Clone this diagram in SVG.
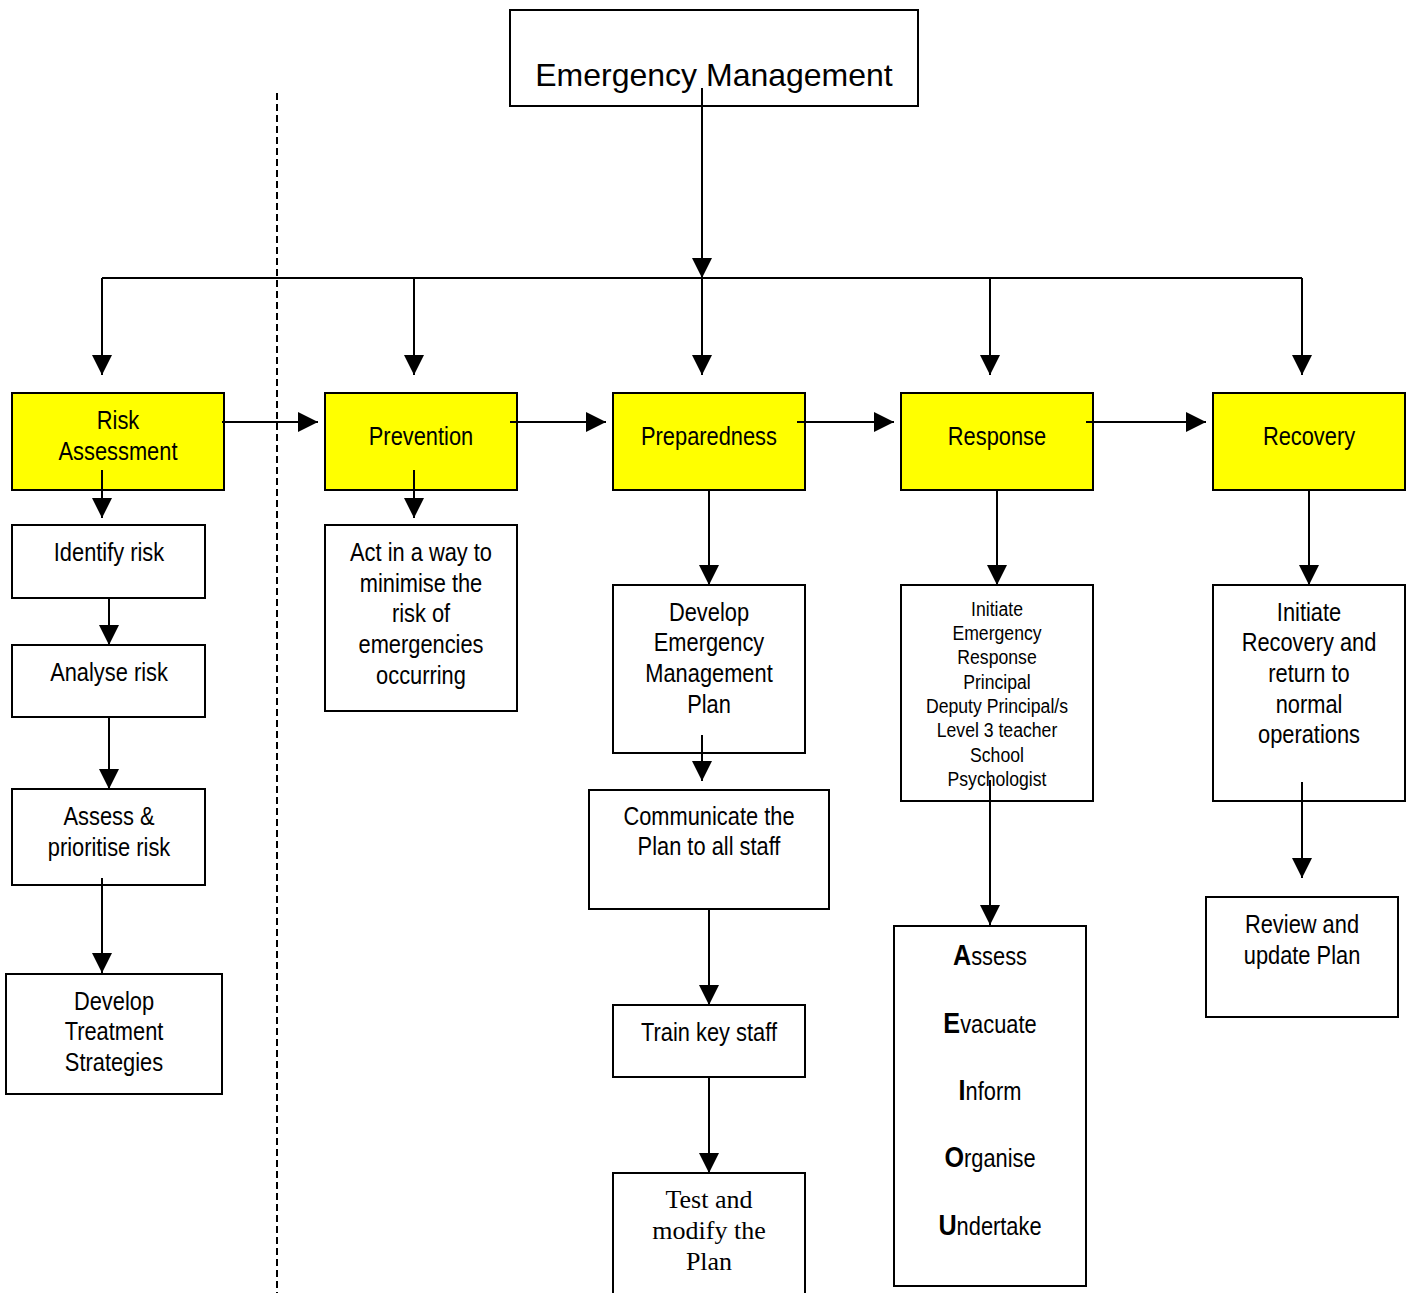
<svg xmlns="http://www.w3.org/2000/svg" width="1415" height="1293" viewBox="0 0 1415 1293">
<style>
  .box { fill: #ffffff; stroke: #000000; stroke-width: 2; }
  .yel { fill: #ffff00; stroke: #000000; stroke-width: 2; }
  .t { font-family: "Liberation Sans", Arial, sans-serif; font-size: 26px; text-anchor: middle; fill: #000000; }
  .s { font-size: 21px; }
  .big { font-family: "Liberation Sans", Arial, sans-serif; font-size: 32px; text-anchor: middle; fill: #000000; }
  .serif { font-family: "Liberation Serif", "Times New Roman", serif; font-size: 26px; text-anchor: middle; fill: #000000; }
  .b { font-weight: bold; font-size: 30px; }
  .c { fill: none; stroke: #000000; stroke-width: 2; }
  .dash { fill: none; stroke: #000000; stroke-width: 2; stroke-dasharray: 7 4; }
</style>
<defs>
  <marker id="ah" markerUnits="userSpaceOnUse" markerWidth="20" markerHeight="20" refX="20" refY="10" orient="auto" viewBox="0 0 20 20">
    <path d="M0,0 L20,10 L0,20 Z" fill="#000000"/>
  </marker>
</defs>
<rect width="1415" height="1293" fill="#ffffff"/>

<line class="dash" x1="277" y1="93" x2="277" y2="1293"/>

<g id="emergency-management">
  <rect class="box" x="510" y="10" width="408" height="96"/>
  <text class="big" x="714" y="86">Emergency Management</text>
</g>

<g id="risk-assessment">
  <rect class="yel" x="12" y="393" width="212" height="97"/>
  <text class="t" transform="translate(118 429) scale(0.84 1)">Risk</text>
  <text class="t" transform="translate(118 460) scale(0.84 1)">Assessment</text>
</g>
<g id="prevention">
  <rect class="yel" x="325" y="393" width="192" height="97"/>
  <text class="t" transform="translate(421 445) scale(0.84 1)">Prevention</text>
</g>
<g id="preparedness">
  <rect class="yel" x="613" y="393" width="192" height="97"/>
  <text class="t" transform="translate(709 445) scale(0.84 1)">Preparedness</text>
</g>
<g id="response">
  <rect class="yel" x="901" y="393" width="192" height="97"/>
  <text class="t" transform="translate(997 445) scale(0.84 1)">Response</text>
</g>
<g id="recovery">
  <rect class="yel" x="1213" y="393" width="192" height="97"/>
  <text class="t" transform="translate(1309 445) scale(0.84 1)">Recovery</text>
</g>

<g id="identify-risk">
  <rect class="box" x="12" y="525" width="193" height="73"/>
  <text class="t" transform="translate(109 561) scale(0.84 1)">Identify risk</text>
</g>
<g id="analyse-risk">
  <rect class="box" x="12" y="645" width="193" height="72"/>
  <text class="t" transform="translate(109 681) scale(0.84 1)">Analyse risk</text>
</g>
<g id="assess-prioritise">
  <rect class="box" x="12" y="789" width="193" height="96"/>
  <text class="t" transform="translate(109 825) scale(0.84 1)">Assess &amp;</text>
  <text class="t" transform="translate(109 856) scale(0.84 1)">prioritise risk</text>
</g>
<g id="treatment-strategies">
  <rect class="box" x="6" y="974" width="216" height="120"/>
  <text class="t" transform="translate(114 1010) scale(0.84 1)">Develop</text>
  <text class="t" transform="translate(114 1040) scale(0.84 1)">Treatment</text>
  <text class="t" transform="translate(114 1071) scale(0.84 1)">Strategies</text>
</g>

<g id="act-minimise">
  <rect class="box" x="325" y="525" width="192" height="186"/>
  <text class="t" transform="translate(421 561) scale(0.84 1)">Act in a way to</text>
  <text class="t" transform="translate(421 592) scale(0.84 1)">minimise the</text>
  <text class="t" transform="translate(421 622) scale(0.84 1)">risk of</text>
  <text class="t" transform="translate(421 653) scale(0.84 1)">emergencies</text>
  <text class="t" transform="translate(421 684) scale(0.84 1)">occurring</text>
</g>

<g id="develop-plan">
  <rect class="box" x="613" y="585" width="192" height="168"/>
  <text class="t" transform="translate(709 621) scale(0.84 1)">Develop</text>
  <text class="t" transform="translate(709 651) scale(0.84 1)">Emergency</text>
  <text class="t" transform="translate(709 682) scale(0.84 1)">Management</text>
  <text class="t" transform="translate(709 713) scale(0.84 1)">Plan</text>
</g>
<g id="communicate-plan">
  <rect class="box" x="589" y="790" width="240" height="119"/>
  <text class="t" transform="translate(709 825) scale(0.84 1)">Communicate the</text>
  <text class="t" transform="translate(709 855) scale(0.84 1)">Plan to all staff</text>
</g>
<g id="train-staff">
  <rect class="box" x="613" y="1005" width="192" height="72"/>
  <text class="t" transform="translate(709 1041) scale(0.84 1)">Train key staff</text>
</g>
<g id="test-modify">
  <rect class="box" x="613" y="1173" width="192" height="130"/>
  <text class="serif" x="709" y="1208">Test and</text>
  <text class="serif" x="709" y="1239">modify the</text>
  <text class="serif" x="709" y="1270">Plan</text>
</g>

<g id="initiate-response">
  <rect class="box" x="901" y="585" width="192" height="216"/>
  <text class="t s" transform="translate(997 616) scale(0.84 1)">Initiate</text>
  <text class="t s" transform="translate(997 640) scale(0.84 1)">Emergency</text>
  <text class="t s" transform="translate(997 664) scale(0.84 1)">Response</text>
  <text class="t s" transform="translate(997 689) scale(0.84 1)">Principal</text>
  <text class="t s" transform="translate(997 713) scale(0.84 1)">Deputy Principal/s</text>
  <text class="t s" transform="translate(997 737) scale(0.84 1)">Level 3 teacher</text>
  <text class="t s" transform="translate(997 762) scale(0.84 1)">School</text>
  <text class="t s" transform="translate(997 786) scale(0.84 1)">Psychologist</text>
</g>
<g id="aeiou">
  <rect class="box" x="894" y="926" width="192" height="360"/>
  <text class="t" transform="translate(990 965) scale(0.84 1)"><tspan class="b">A</tspan>ssess</text>
  <text class="t" transform="translate(990 1033) scale(0.84 1)"><tspan class="b">E</tspan>vacuate</text>
  <text class="t" transform="translate(990 1100) scale(0.84 1)"><tspan class="b">I</tspan>nform</text>
  <text class="t" transform="translate(990 1167) scale(0.84 1)"><tspan class="b">O</tspan>rganise</text>
  <text class="t" transform="translate(990 1235) scale(0.84 1)"><tspan class="b">U</tspan>ndertake</text>
</g>

<g id="initiate-recovery">
  <rect class="box" x="1213" y="585" width="192" height="216"/>
  <text class="t" transform="translate(1309 621) scale(0.84 1)">Initiate</text>
  <text class="t" transform="translate(1309 651) scale(0.84 1)">Recovery and</text>
  <text class="t" transform="translate(1309 682) scale(0.84 1)">return to</text>
  <text class="t" transform="translate(1309 713) scale(0.84 1)">normal</text>
  <text class="t" transform="translate(1309 743) scale(0.84 1)">operations</text>
</g>
<g id="review-plan">
  <rect class="box" x="1206" y="897" width="192" height="120"/>
  <text class="t" transform="translate(1302 933) scale(0.84 1)">Review and</text>
  <text class="t" transform="translate(1302 964) scale(0.84 1)">update Plan</text>
</g>

<g id="connectors">
  <path class="c" d="M702,88 V278" marker-end="url(#ah)"/>
  <path class="c" d="M102,278 H1302"/>
  <path class="c" d="M102,278 V375" marker-end="url(#ah)"/>
  <path class="c" d="M414,278 V375" marker-end="url(#ah)"/>
  <path class="c" d="M702,278 V375" marker-end="url(#ah)"/>
  <path class="c" d="M990,278 V375" marker-end="url(#ah)"/>
  <path class="c" d="M1302,278 V375" marker-end="url(#ah)"/>
  <path class="c" d="M222,422 H318" marker-end="url(#ah)"/>
  <path class="c" d="M510,422 H606" marker-end="url(#ah)"/>
  <path class="c" d="M797,422 H894" marker-end="url(#ah)"/>
  <path class="c" d="M1086,422 H1206" marker-end="url(#ah)"/>
  <path class="c" d="M102,470 V518" marker-end="url(#ah)"/>
  <path class="c" d="M414,470 V518" marker-end="url(#ah)"/>
  <path class="c" d="M109,598 V645" marker-end="url(#ah)"/>
  <path class="c" d="M109,717 V789" marker-end="url(#ah)"/>
  <path class="c" d="M102,878 V973" marker-end="url(#ah)"/>
  <path class="c" d="M709,490 V585" marker-end="url(#ah)"/>
  <path class="c" d="M702,735 V781" marker-end="url(#ah)"/>
  <path class="c" d="M709,909 V1005" marker-end="url(#ah)"/>
  <path class="c" d="M709,1077 V1173" marker-end="url(#ah)"/>
  <path class="c" d="M997,490 V585" marker-end="url(#ah)"/>
  <path class="c" d="M990,780 V925" marker-end="url(#ah)"/>
  <path class="c" d="M1309,490 V585" marker-end="url(#ah)"/>
  <path class="c" d="M1302,782 V878" marker-end="url(#ah)"/>
</g>
</svg>
